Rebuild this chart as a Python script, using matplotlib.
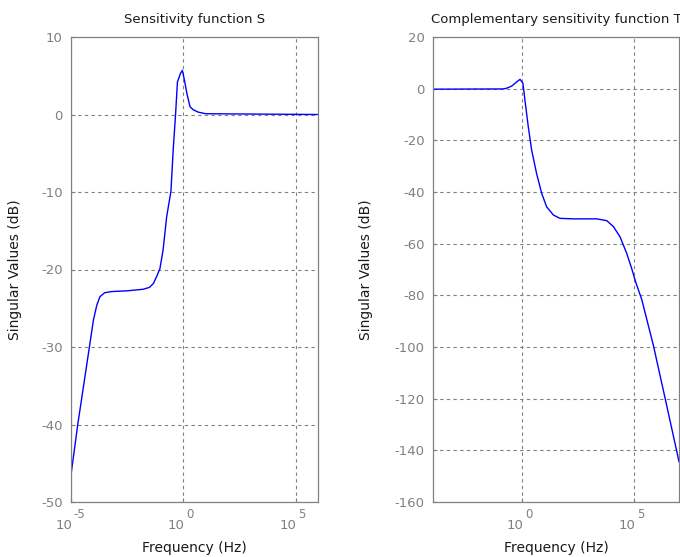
import matplotlib
matplotlib.use("Agg")
import matplotlib.pyplot as plt

plt.rcParams['font.family'] = ['DejaVu Sans']
plt.rcParams['axes.unicode_minus'] = False

# sensitivity function S (Hz, dB)
freq_s = [1e-5, 2.0e-5, 6.6e-5, 1.0e-4, 1.41e-4, 1.95e-4, 3.16e-4, 6.3e-4,
          3.16e-3, 0.0166, 0.0316, 0.0468, 0.063, 0.091, 0.126, 0.182, 0.282,
          0.355, 0.457, 0.55, 0.75, 0.912, 1.15, 1.45, 2.0, 2.8, 4.7, 10, 1e6]
mag_s = [-46.5, -40.0, -30.0, -26.5, -24.6, -23.5, -23.0, -22.85,
         -22.75, -22.55, -22.3, -21.8, -21.0, -19.9, -17.5, -13.2, -9.9,
         -4.6, 0.15, 4.2, 5.3, 5.7, 4.3, 2.7, 1.0, 0.6, 0.3, 0.1, 0.0]

# complementary sensitivity function T (Hz, dB)
freq_t = [1e-4, 0.14, 0.2, 0.33, 0.55, 0.78, 1.05, 1.29, 1.82, 2.57, 4.27,
          7.24, 12.0, 24.0, 47.9, 186, 2090, 5890, 1.17e4, 2.29e4, 4.57e4,
          7.59e4, 1.17e5, 2.14e5, 7.08e5, 2.40e6, 7.76e6, 1e7]
mag_t = [-0.2, -0.1, 0.2, 1.0, 2.6, 3.6, 2.1, -4.4, -14.7, -23.7, -32.8,
         -40.5, -45.7, -48.9, -50.2, -50.4, -50.4, -51.1, -53.4, -57.3, -63.7,
         -69.5, -75.0, -81.5, -99.2, -119.9, -140.0, -144.4]

grey = '#808080'
txt = '#1a1a1a'

fig = plt.figure(figsize=(6.8, 5.57), dpi=100)
ax1 = fig.add_axes([71/680, 55/557, 247/680, 465/557])
ax2 = fig.add_axes([433/680, 55/557, 246/680, 465/557])


def style(ax, xticks, exps, yticks):
    ax.set_xscale('log')
    ax.set_xticks(xticks)
    ax.set_xticklabels([''] * len(xticks))
    ax.minorticks_off()
    ax.set_yticks(yticks)
    ax.grid(True, color=grey, linestyle=(0, (3, 3)), linewidth=0.8)
    ax.tick_params(direction='in', length=3, width=0.8, colors=grey,
                   labelsize=9.5, pad=6)
    for sp in ax.spines.values():
        sp.set_color(grey)
        sp.set_linewidth(0.9)
    # MATLAB style 10^n labels
    for xt, e in zip(xticks, exps):
        ax.annotate('10', xy=(xt, 0), xycoords=('data', 'axes fraction'),
                    xytext=(1.0, -19.4), textcoords='offset points',
                    ha='right', va='baseline', fontsize=9.5, color=grey)
        ax.annotate(e, xy=(xt, 0), xycoords=('data', 'axes fraction'),
                    xytext=(2.0, -11.3), textcoords='offset points',
                    ha='left', va='baseline', fontsize=8.5, color=grey)
    ax.set_xlabel('Frequency (Hz)', fontsize=10, color=txt, va='top')
    ax.set_ylabel('Singular Values (dB)', fontsize=10, color=txt)
    ax.xaxis.set_label_coords(0.5, -0.083)


ax1.plot(freq_s, mag_s, color='#0000ff', linewidth=1.0)
ax1.set_xlim(1e-5, 1e6)
ax1.set_ylim(-50, 10)
style(ax1, [1e-5, 1e0, 1e5], ['-5', '0', '5'], range(-50, 11, 10))
ax1.yaxis.set_label_coords(-0.2, 0.5)
ax1.set_title('Sensitivity function S', fontsize=9.5, color=txt, pad=10)

ax2.plot(freq_t, mag_t, color='#0000ff', linewidth=1.0)
ax2.set_xlim(1e-4, 1e7)
ax2.set_ylim(-160, 20)
style(ax2, [1e0, 1e5], ['0', '5'], range(-160, 21, 20))
ax2.yaxis.set_label_coords(-0.245, 0.5)
ax2.set_title('Complementary sensitivity function T', fontsize=9.5,
              color=txt, pad=10)

fig.savefig('out.png', dpi=100)
